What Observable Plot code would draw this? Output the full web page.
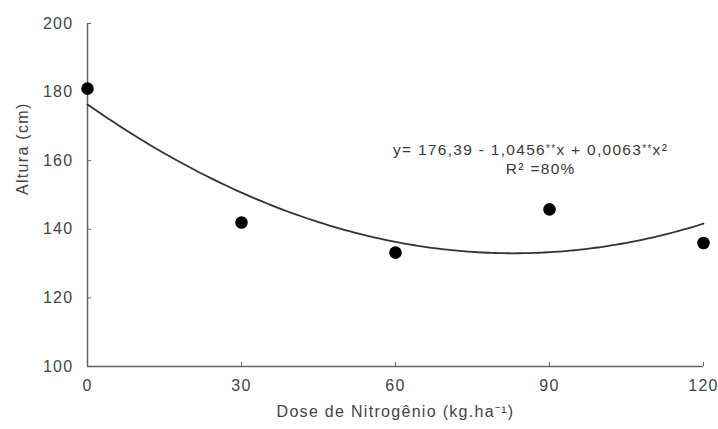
<!DOCTYPE html>
<html>
<head>
<meta charset="utf-8">
<script src="https://cdn.jsdelivr.net/npm/d3@7"></script>
<script src="https://cdn.jsdelivr.net/npm/@observablehq/plot@0.6"></script>
<style>
  html, body { margin: 0; padding: 0; background: #fff; }
  #chart svg { display: block; }
</style>
</head>
<body>
<div id="chart"></div>
<script>
// Nitrogen dose (kg/ha) and observed plant height (cm)
const doses = [0, 30, 60, 90, 120];
const heights = [181, 142, 133.2, 145.8, 136];
const xTicks = [0, 30, 60, 90, 120];
const yTicks = [100, 120, 140, 160, 180, 200];

// Fitted quadratic: y = 176.39 - 1.0456x + 0.0063x²
const coef = [176.39, -1.0456, 0.0063];
const fitX = d3.range(0, 120.5, 1);
const fit = fitX.map(x => ({x, y: coef[0] + coef[1] * x + coef[2] * x * x}));

const points = doses.map((d, i) => ({dose: d, height: heights[i]}));
const equation = "y= 176,39 - 1,0456**x + 0,0063**x²";
const r2 = "R² =80%";

const ink = "#444";

const chart = Plot.plot({
  width: 718,
  height: 429,
  marginLeft: 87,
  marginRight: 15,
  marginTop: 23,
  marginBottom: 63,
  style: {fontFamily: "'Liberation Sans', Arial, sans-serif", fontSize: "16px", color: ink},
  x: {domain: [0, 120]},
  y: {domain: [100, 200]},
  marks: [
    Plot.ruleX([0], {stroke: "#666", strokeWidth: 1.5}),
    Plot.ruleY([100], {stroke: "#666", strokeWidth: 1.5}),
    Plot.axisX({ticks: xTicks, tickSize: -4, tickPadding: 17, stroke: "#666", label: null, fontSize: 16}),
    Plot.axisY({ticks: yTicks, tickSize: -4, tickPadding: 18, stroke: "#666", label: null, fontSize: 16}),
    Plot.line(fit, {x: "x", y: "y", stroke: "#333", strokeWidth: 1.8, curve: "natural"}),
    Plot.dot(points, {x: "dose", y: "height", r: 6.3, fill: "#000"}),
    Plot.text([equation], {x: 86.3, y: 163, fontSize: 15.5, fill: "#3a3a3a"}),
    Plot.text([r2], {x: 88.3, y: 157.7, fontSize: 15.5, fill: "#3a3a3a"}),
    Plot.text(["Dose de Nitrogênio (kg.ha⁻¹)"], {frameAnchor: "bottom", dy: 50, fontSize: 16, fill: ink}),
    Plot.text(["Altura (cm)"], {frameAnchor: "left", dx: -65, rotate: -90, fontSize: 16, fill: ink})
  ]
});

// letter spacing and raised significance stars
const svg = d3.select(chart);
svg.selectAll("text").attr("letter-spacing", "1.3px");
svg.selectAll("text").filter(function () { return this.textContent === equation; })
  .each(function () {
    const t = d3.select(this);
    t.text(null);
    const parts = ["y= 176,39 - 1,0456", "**", "x + 0,0063", "**", "x²"];
    parts.forEach(p => {
      const s = t.append("tspan").text(p);
      if (p === "**") s.attr("baseline-shift", "35%").attr("font-size", "10px");
    });
  });

document.getElementById("chart").append(chart);
</script>
</body>
</html>
